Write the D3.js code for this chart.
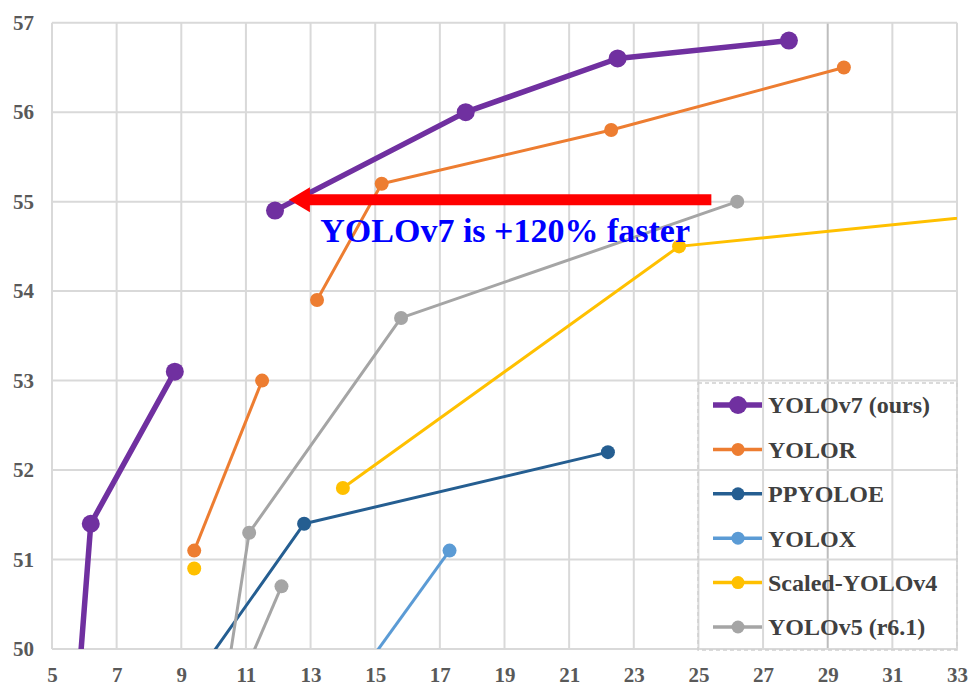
<!DOCTYPE html>
<html>
<head>
<meta charset="utf-8">
<script src="https://cdn.jsdelivr.net/npm/d3@7"></script>
<style>
  html, body { margin: 0; padding: 0; background: #ffffff; }
  svg { display: block; }
</style>
</head>
<body>
<script>
// ---- data (x: latency ms, y: AP %) ----
const xTicks = [5, 7, 9, 11, 13, 15, 17, 19, 21, 23, 25, 27, 29, 31, 33];
const yTicks = [50, 51, 52, 53, 54, 55, 56, 57];

const seriesNames = ["YOLOv7 (ours)", "YOLOR", "PPYOLOE", "YOLOX", "Scaled-YOLOv4", "YOLOv5 (r6.1)"];
const seriesColors = ["#7030a0", "#ed7d31", "#255e91", "#5b9bd5", "#ffc000", "#a5a5a5"];

const yolov7A = [[3.5, 38.7], [6.2, 51.4], [8.8, 53.1]];
const yolov7B = [[11.9, 54.9], [17.8, 56.0], [22.5, 56.6], [27.8, 56.8]];
const yolorA = [[9.4, 51.1], [11.5, 53.0]];
const yolorB = [[13.2, 53.9], [15.2, 55.2], [22.3, 55.8], [29.5, 56.5]];
const ppyoloe = [[8.1, 49.0], [12.8, 51.4], [22.2, 52.2]];
const yolox = [[14.5, 49.7], [17.3, 51.1]];
const scaledA = [[9.4, 50.9]];
const scaledB = [[14.0, 51.8], [24.4, 54.5], [40.0, 55.07]];
const yolov5A = [[10.2, 49.2], [11.1, 51.3], [15.8, 53.7], [26.2, 55.0]];
const yolov5B = [[10.5, 49.35], [12.1, 50.7]];

const annotationText = "YOLOv7 is +120% faster";
const arrowFrom = [25.4, 55.02];
const arrowTo = [12.33, 55.02];
const textAt = [13.3, 54.55];

// ---- layout ----
const W = 972, H = 688;
const pLeft = 52, pRight = 957, pTop = 22.7, pBottom = 649;

const segments = [
  { s: 0, pts: yolov7A }, { s: 0, pts: yolov7B },
  { s: 1, pts: yolorA }, { s: 1, pts: yolorB },
  { s: 2, pts: ppyoloe },
  { s: 3, pts: yolox },
  { s: 4, pts: scaledA }, { s: 4, pts: scaledB },
  { s: 5, pts: yolov5A }, { s: 5, pts: yolov5B }
];

const x = d3.scaleLinear().domain([5, 33]).range([pLeft, pRight]);
const y = d3.scaleLinear().domain([50, 57]).range([pBottom, pTop]);

const svg = d3.select("body").append("svg").attr("width", W).attr("height", H);
svg.append("rect").attr("width", W).attr("height", H).attr("fill", "#ffffff");

const defs = svg.append("defs");
defs.append("clipPath").attr("id", "plotclip")
  .append("rect").attr("x", pLeft - 12).attr("y", pTop - 12)
  .attr("width", pRight - pLeft + 12).attr("height", pBottom - pTop + 12);
defs.append("clipPath").attr("id", "lineclip")
  .append("rect").attr("x", pLeft).attr("y", pTop - 12)
  .attr("width", pRight - pLeft).attr("height", pBottom - pTop + 12);

const font = "Liberation Serif";

// gridlines
const grid = svg.append("g");
grid.selectAll("line.v").data(xTicks).join("line").attr("class", "v")
  .attr("x1", d => x(d)).attr("x2", d => x(d))
  .attr("y1", pTop).attr("y2", pBottom)
  .attr("stroke", d => d === 29 ? "#bdbdbd" : "#d9d9d9").attr("stroke-width", 2);
grid.selectAll("line.h").data(yTicks).join("line").attr("class", "h")
  .attr("x1", pLeft).attr("x2", pRight)
  .attr("y1", d => y(d)).attr("y2", d => y(d))
  .attr("stroke", "#d9d9d9").attr("stroke-width", 2);

// axes labels via d3 axes
const xAxis = svg.append("g").attr("transform", `translate(0,${pBottom})`)
  .call(d3.axisBottom(x).tickValues(xTicks).tickSize(0).tickPadding(18).tickFormat(d3.format("d")));
const yAxis = svg.append("g").attr("transform", `translate(${pLeft},0)`)
  .call(d3.axisLeft(y).tickValues(yTicks).tickSize(0).tickPadding(18).tickFormat(d3.format("d")));
[xAxis, yAxis].forEach(a => {
  a.select(".domain").remove();
  a.attr("font-family", null).attr("font-size", null);
  a.selectAll("text").style("font-family", font).style("font-weight", "bold")
    .style("font-size", "21px").attr("fill", "#595959");
});

// series
const lineGen = d3.line().x(d => x(d[0])).y(d => y(d[1]));
const plot = svg.append("g");
segments.forEach(seg => {
  const big = seg.s === 0;
  plot.append("path").datum(seg.pts)
    .attr("clip-path", "url(#lineclip)")
    .attr("d", lineGen)
    .attr("fill", "none")
    .attr("stroke", seriesColors[seg.s])
    .attr("stroke-width", big ? 5.5 : 3)
    .attr("stroke-linejoin", "round");
});
segments.forEach(seg => {
  const big = seg.s === 0;
  plot.append("g").attr("clip-path", "url(#plotclip)")
    .selectAll("circle").data(seg.pts.filter(p => p[0] <= 33 && p[1] >= 50)).join("circle")
    .attr("cx", d => x(d[0])).attr("cy", d => y(d[1]))
    .attr("r", big ? 9 : 7)
    .attr("fill", seriesColors[seg.s]);
});

// arrow annotation
const ax0 = x(arrowFrom[0]), ay = y(arrowFrom[1]), ax1 = x(arrowTo[0]);
const headLen = 21, headHalf = 12.5, bodyHalf = 5.5;
svg.append("path")
  .attr("d", `M${ax0},${ay - bodyHalf} L${ax1 + headLen},${ay - bodyHalf} L${ax1 + headLen},${ay - headHalf} L${ax1},${ay} L${ax1 + headLen},${ay + headHalf} L${ax1 + headLen},${ay + bodyHalf} L${ax0},${ay + bodyHalf} Z`)
  .attr("fill", "#ff0000");
svg.append("text")
  .attr("x", x(textAt[0])).attr("y", y(textAt[1]))
  .style("font-family", font).style("font-weight", "bold").style("font-size", "34px")
  .attr("fill", "#0000ff")
  .text(annotationText);

// legend
const lgX0 = 698, lgY0 = 383, lgX1 = pRight, lgY1 = 650;
svg.append("rect").attr("x", lgX0).attr("y", lgY0)
  .attr("width", lgX1 - lgX0).attr("height", lgY1 - lgY0)
  .attr("fill", "none").attr("stroke", "#d0d0d0").attr("stroke-width", 1.5)
  .attr("stroke-dasharray", "4,3");
const legendY = d3.scalePoint().domain(seriesNames).range([405, 627]);
const lg = svg.append("g");
seriesNames.forEach((name, i) => {
  const cy = legendY(name);
  const big = i === 0;
  lg.append("line").attr("x1", 713).attr("x2", 762).attr("y1", cy).attr("y2", cy)
    .attr("stroke", seriesColors[i]).attr("stroke-width", big ? 5.5 : 3.5);
  lg.append("circle").attr("cx", 738).attr("cy", cy).attr("r", big ? 9 : 6.5)
    .attr("fill", seriesColors[i]);
  lg.append("text").attr("x", 768).attr("y", cy).attr("dy", "0.35em")
    .style("font-family", font).style("font-weight", "bold").style("font-size", "24px")
    .attr("fill", "#404040").text(name);
});
</script>
</body>
</html>
